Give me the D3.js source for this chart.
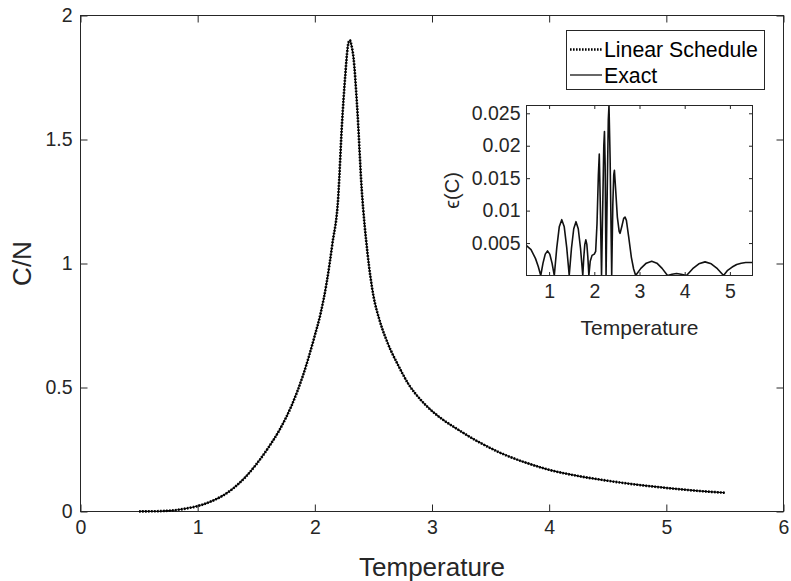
<!DOCTYPE html>
<html><head><meta charset="utf-8">
<script src="https://cdn.jsdelivr.net/npm/d3@7"></script>
<style>
body{margin:0;background:#fff}
svg{display:block}
text{font-family:"Liberation Sans",Arial,Helvetica,sans-serif;fill:#262626}
</style>
</head><body>
<svg id="chart" width="791" height="581"></svg>
<script>
// ---------- data ----------
const temps = [0.5,0.6,0.7,0.8,0.9,1.0,1.1,1.2,1.3,1.4,1.5,1.6,1.7,1.8,1.9,2.0,2.05,2.1,2.15,2.2,2.23,2.26,2.28,2.29,2.3,2.31,2.33,2.36,2.4,2.45,2.5,2.55,2.6,2.65,2.7,2.8,2.9,3.0,3.1,3.2,3.4,3.6,3.8,4.0,4.25,4.5,4.75,5.0,5.25,5.5];
const exactC = [0.0003,0.0008,0.002,0.005,0.012,0.022,0.038,0.06,0.092,0.135,0.19,0.255,0.33,0.425,0.55,0.71,0.80,0.92,1.08,1.27,1.55,1.76,1.87,1.895,1.90,1.885,1.83,1.64,1.30,1.04,0.87,0.775,0.705,0.648,0.60,0.513,0.452,0.405,0.368,0.337,0.28,0.233,0.197,0.168,0.143,0.124,0.108,0.095,0.084,0.0755];
const linearC = [0.0003,0.0008,0.002,0.005,0.012,0.022,0.038,0.06,0.092,0.135,0.19,0.255,0.33,0.425,0.55,0.71,0.80,0.92,1.08,1.27,1.55,1.76,1.87,1.895,1.90,1.885,1.83,1.64,1.30,1.04,0.87,0.775,0.705,0.648,0.60,0.513,0.452,0.405,0.368,0.337,0.28,0.233,0.197,0.168,0.143,0.124,0.108,0.095,0.084,0.0755];

const errT = [0.5,0.6,0.7,0.76,0.815,0.865,0.915,0.965,1.015,1.065,1.115,1.17,1.225,1.28,1.335,1.39,1.445,1.495,1.545,1.595,1.645,1.695,1.745,1.7675,1.79,1.8125,1.835,1.8575,1.88,1.91,1.95,2.0,2.03,2.06,2.09,2.11,2.13,2.16,2.19,2.21,2.225,2.24,2.26,2.29,2.31,2.325,2.35,2.385,2.41,2.43,2.445,2.47,2.51,2.55,2.57,2.61,2.65,2.68,2.71,2.76,2.82,2.87,2.915,3.03,3.15,3.27,3.385,3.5,3.62,3.72,3.82,3.92,4.04,4.177,4.313,4.45,4.587,4.723,4.86,4.95,5.05,5.15,5.25,5.35,5.45,5.5];
const errV = [0.0046,0.0040,0.0026,0.0014,0,0.0019,0.0033,0.0038,0.0033,0.0019,0,0.0043,0.0075,0.0086,0.0075,0.0043,0,0.0042,0.0072,0.0083,0.0072,0.0042,0,0.0028,0.0048,0.0055,0.0048,0.0028,0,0.0022,0.0031,0.0033,0.0037,0.008,0.0155,0.0187,0.012,0,0.012,0.020,0.0222,0.017,0,0.015,0.024,0.0262,0.018,0,0.011,0.0155,0.0162,0.0135,0.009,0.0068,0.0065,0.0076,0.0088,0.009,0.0085,0.006,0.0028,0.001,0,0.0011,0.0019,0.0022,0.0019,0.0011,0,0.0002,0.0003,0.0002,0,0.00105,0.0018,0.0021,0.0018,0.00105,0,0.0008,0.0013,0.0017,0.0019,0.002,0.002,0.002];

const xTicks = [0,1,2,3,4,5,6];
const yTicks = [0,0.5,1,1.5,2];
const insetXTicks = [1,2,3,4,5];
const insetYTicks = [0.005,0.01,0.015,0.02,0.025];
const legendLabels = ["Linear Schedule","Exact"];

// ---------- layout ----------
const svg = d3.select("#chart");
const AX = "#262626";
const M = {l:80.5, r:783.5, t:15.5, b:511.5};
const I = {l:526.5, r:752.5, t:105.5, b:275.5};

const x = d3.scaleLinear().domain([0,6]).range([M.l, M.r]);
const y = d3.scaleLinear().domain([0,2]).range([M.b, M.t]);
const xi = d3.scaleLinear().domain([0.5,5.5]).range([I.l, I.r]);
const yi = d3.scaleLinear().domain([0,0.0262]).range([I.b, I.t]);

function styleAxis(g, fs){
  g.select(".domain").remove();
  g.selectAll(".tick line").attr("stroke", AX).attr("stroke-width", 1);
  g.selectAll(".tick text").attr("fill", AX).style("font-size", fs+"px")
    .style("font-family", '"Liberation Sans",Arial,Helvetica,sans-serif');
}

svg.append("rect").attr("x",M.l).attr("y",M.t).attr("width",M.r-M.l).attr("height",M.b-M.t).attr("fill","#fff");

const TK = 7;
svg.append("g").attr("transform",`translate(0,${M.b})`)
  .call(d3.axisBottom(x).tickValues(xTicks).tickFormat(d=>String(d)).tickSizeInner(-TK).tickSizeOuter(0).tickPadding(9))
  .call(g=>styleAxis(g,19.5));
svg.append("g").attr("transform",`translate(0,${M.t})`)
  .call(d3.axisTop(x).tickValues(xTicks).tickFormat("").tickSizeInner(-TK).tickSizeOuter(0))
  .call(g=>styleAxis(g,19.5));
svg.append("g").attr("transform",`translate(${M.l},0)`)
  .call(d3.axisLeft(y).tickValues(yTicks).tickFormat(d=>String(d)).tickSizeInner(-TK).tickSizeOuter(0).tickPadding(8))
  .call(g=>styleAxis(g,19.5));
svg.append("g").attr("transform",`translate(${M.r},0)`)
  .call(d3.axisRight(y).tickValues(yTicks).tickFormat("").tickSizeInner(-TK).tickSizeOuter(0))
  .call(g=>styleAxis(g,19.5));

svg.append("rect").attr("x",M.l).attr("y",M.t).attr("width",M.r-M.l).attr("height",M.b-M.t)
  .attr("fill","none").attr("stroke",AX).attr("stroke-width",1);

// main curves
const mainExact = temps.map((t,i)=>[t,exactC[i]]);
const mainLinear = temps.map((t,i)=>[t,linearC[i]]);
const line = d3.line().x(d=>x(d[0])).y(d=>y(d[1])).curve(d3.curveMonotoneX);
svg.append("path").datum(mainExact).attr("d",line).attr("fill","none").attr("stroke","#000").attr("stroke-width",1.2);
svg.append("path").datum(mainLinear).attr("d",line).attr("fill","none").attr("stroke","#000")
  .attr("stroke-width",2.6).attr("stroke-dasharray","1.6,1.4");

// main labels
svg.append("text").attr("x",(M.l+M.r)/2).attr("y",576).attr("text-anchor","middle")
  .style("font-size","26px").text("Temperature");
svg.append("text").attr("transform",`translate(31,${(M.t+M.b)/2}) rotate(-90)`).attr("text-anchor","middle")
  .style("font-size","26px").text("C/N");

// ---------- inset ----------
svg.append("rect").attr("x",I.l).attr("y",I.t).attr("width",I.r-I.l).attr("height",I.b-I.t).attr("fill","#fff");
const TKi = 3.5;
svg.append("g").attr("transform",`translate(0,${I.b})`)
  .call(d3.axisBottom(xi).tickValues(insetXTicks).tickFormat(d=>String(d)).tickSizeInner(-TKi).tickSizeOuter(0).tickPadding(9))
  .call(g=>styleAxis(g,19.5));
svg.append("g").attr("transform",`translate(0,${I.t})`)
  .call(d3.axisTop(xi).tickValues(insetXTicks).tickFormat("").tickSizeInner(-TKi).tickSizeOuter(0))
  .call(g=>styleAxis(g,19.5));
svg.append("g").attr("transform",`translate(${I.l},0)`)
  .call(d3.axisLeft(yi).tickValues(insetYTicks).tickFormat(d=>String(d)).tickSizeInner(-TKi).tickSizeOuter(0).tickPadding(6))
  .call(g=>styleAxis(g,19.5));
svg.append("g").attr("transform",`translate(${I.r},0)`)
  .call(d3.axisRight(yi).tickValues(insetYTicks).tickFormat("").tickSizeInner(-TKi).tickSizeOuter(0))
  .call(g=>styleAxis(g,19.5));

svg.append("clipPath").attr("id","iclip").append("rect")
  .attr("x",I.l).attr("y",I.t).attr("width",I.r-I.l).attr("height",I.b-I.t);
const errData = errT.map((t,i)=>[t,errV[i]]);
const iline = d3.line().x(d=>xi(d[0])).y(d=>yi(d[1]));
svg.append("path").datum(errData).attr("d",iline).attr("clip-path","url(#iclip)")
  .attr("fill","none").attr("stroke","#111").attr("stroke-width",1.6).attr("stroke-linejoin","round");

svg.append("rect").attr("x",I.l).attr("y",I.t).attr("width",I.r-I.l).attr("height",I.b-I.t)
  .attr("fill","none").attr("stroke",AX).attr("stroke-width",1);

svg.append("text").attr("x",(I.l+I.r)/2).attr("y",335).attr("text-anchor","middle")
  .style("font-size","21px").text("Temperature");
svg.append("text").attr("transform",`translate(459,${(I.t+I.b)/2}) rotate(-90)`).attr("text-anchor","middle")
  .style("font-size","20px").text("ϵ(C)");

// ---------- legend ----------
const L = {x:566.5, y:30.5, w:198, h:59};
const lg = svg.append("g");
lg.append("rect").attr("x",L.x).attr("y",L.y).attr("width",L.w).attr("height",L.h)
  .attr("fill","#fff").attr("stroke",AX).attr("stroke-width",1);
const rowsY = [49.5, 75];
lg.append("line").attr("x1",570).attr("x2",602).attr("y1",rowsY[0]).attr("y2",rowsY[0])
  .attr("stroke","#000").attr("stroke-width",2.6).attr("stroke-dasharray","1.6,1.4");
lg.append("line").attr("x1",570).attr("x2",602).attr("y1",rowsY[1]).attr("y2",rowsY[1])
  .attr("stroke","#000").attr("stroke-width",1.2);
legendLabels.forEach((s,i)=>{
  lg.append("text").attr("x",604).attr("y",rowsY[i]).attr("dy","0.36em")
    .style("font-size","21.3px").style("fill","#000").text(s);
});
</script>
</body></html>
